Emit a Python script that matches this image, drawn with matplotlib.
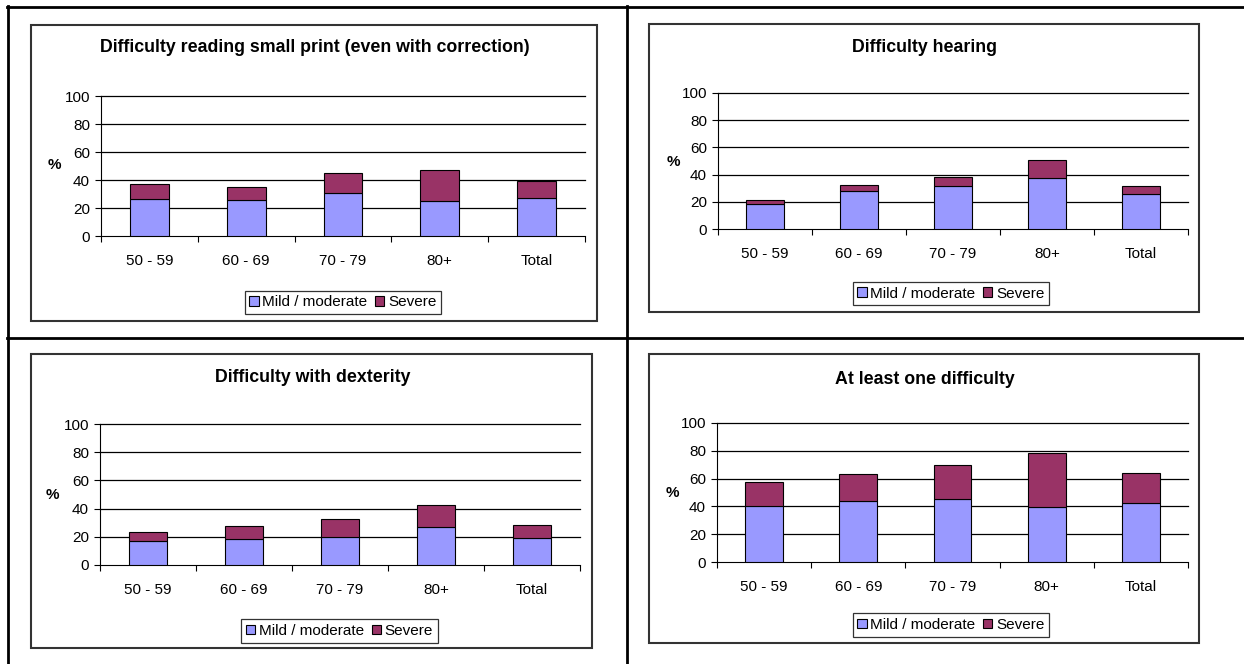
import numpy as np
import matplotlib
matplotlib.use("Agg")
import matplotlib.pyplot as plt
from matplotlib.patches import Rectangle
from matplotlib.lines import Line2D

plt.rcParams['font.family'] = ['Liberation Sans', 'DejaVu Sans']

# Data
age_groups = ["50 - 59", "60 - 69", "70 - 79", "80+", "Total"]
series_names = ["Mild / moderate", "Severe"]

reading_mild = [26.4, 25.7, 30.9, 24.7, 27.3]
reading_severe = [10.4, 9.5, 13.8, 22.3, 11.9]

hearing_mild = [18.4, 27.7, 31.9, 37.7, 26.0]
hearing_severe = [2.9, 4.7, 6.3, 13.0, 5.4]

dexterity_mild = [17.3, 18.2, 19.9, 26.8, 19.0]
dexterity_severe = [5.9, 9.3, 12.8, 15.9, 9.2]

any_mild = [40.6, 44.2, 45.2, 39.9, 42.3]
any_severe = [17.1, 19.3, 24.8, 38.6, 22.0]

titles = ["Difficulty reading small print (even with correction)",
          "Difficulty hearing",
          "Difficulty with dexterity",
          "At least one difficulty"]

mild_color = "#9999FF"
severe_color = "#993366"

W, H = 1244, 664
fig = plt.figure(figsize=(W / 100, H / 100), dpi=100)


def fx(x):
    return x / W


def fy(y):
    return 1 - y / H


# table borders
def hline(y, x0, x1, lw=2):
    fig.add_artist(Line2D([fx(x0), fx(x1)], [fy(y), fy(y)], color="black", lw=lw))


def vline(x, y0, y1, lw=2):
    fig.add_artist(Line2D([fx(x), fx(x)], [fy(y0), fy(y1)], color="black", lw=lw))


hline(7, 7, 1244)
hline(338, 7, 1244)
vline(8, 6, 664)
vline(627, 6, 664)

# layout per chart: box, plot area, title pos, % pos, legend centre
layouts = [
    dict(box=(31, 25, 597, 321), plot=(101, 96, 585, 236), title=(315, 48), pct=(54, 165), leg=(343, 302.5)),
    dict(box=(649, 24, 1199, 312), plot=(718, 93, 1188, 229), title=(924, 47), pct=(673, 162), leg=(951, 293.5)),
    dict(box=(31, 354, 592, 648), plot=(100, 424, 580, 565), title=(313, 378), pct=(52, 495), leg=(339.5, 631)),
    dict(box=(649, 354, 1199, 643), plot=(717, 423, 1188, 562), title=(925, 379), pct=(672, 493), leg=(951, 625)),
]

data = [(reading_mild, reading_severe), (hearing_mild, hearing_severe),
        (dexterity_mild, dexterity_severe), (any_mild, any_severe)]

x = np.arange(len(age_groups))

for lay, (mild, severe), title in zip(layouts, data, titles):
    bx0, by0, bx1, by1 = lay["box"]
    fig.add_artist(Rectangle((fx(bx0), fy(by1)), fx(bx1 - bx0), (by1 - by0) / H,
                             fill=False, edgecolor="#333333", lw=1.5))

    px0, py0, px1, py1 = lay["plot"]
    ax = fig.add_axes([fx(px0), fy(py1), fx(px1 - px0), (py1 - py0) / H])

    for g in [20, 40, 60, 80, 100]:
        ax.axhline(g, color="black", lw=0.9, zorder=1, clip_on=False)

    ax.bar(x, mild, width=0.4, color=mild_color, edgecolor="black", lw=0.8,
           zorder=3, label=series_names[0])
    ax.bar(x, severe, width=0.4, bottom=mild, color=severe_color, edgecolor="black",
           lw=0.8, zorder=3, label=series_names[1])

    ax.set_xlim(-0.5, len(age_groups) - 0.5)
    ax.set_ylim(0, 100)
    ax.set_yticks([0, 20, 40, 60, 80, 100])
    ax.set_xticks(np.arange(-0.5, len(age_groups)), labels=[""] * (len(age_groups) + 1))
    ax.set_xticks(x, labels=age_groups, minor=True)
    ax.tick_params(axis="x", which="major", direction="out", length=4, width=0.8)
    ax.tick_params(axis="x", which="minor", length=0, pad=13, labelsize=11)
    ax.tick_params(axis="y", direction="out", length=4, width=0.8, pad=4, labelsize=11)
    for side in ["top", "right"]:
        ax.spines[side].set_visible(False)
    ax.spines["left"].set_linewidth(0.8)
    ax.spines["bottom"].set_linewidth(0.8)
    ax.set_facecolor("none")

    tx, ty = lay["title"]
    fig.text(fx(tx), fy(ty), title, ha="center", va="center", fontsize=12.8, fontweight="bold")
    qx, qy = lay["pct"]
    fig.text(fx(qx), fy(qy), "%", ha="center", va="center", fontsize=11, fontweight="bold")

    lx, ly = lay["leg"]
    leg = fig.legend(handles=ax.patches[:1] + ax.patches[5:6], labels=series_names,
                     loc="center", bbox_to_anchor=(fx(lx), fy(ly)), ncol=2,
                     fontsize=11, frameon=True, fancybox=False, edgecolor="black",
                     handlelength=0.6, handleheight=0.6, handletextpad=0.25,
                     columnspacing=0.5, borderpad=0.3, borderaxespad=0)
    leg.get_frame().set_linewidth(0.9)

fig.savefig("out.png", dpi=100)
